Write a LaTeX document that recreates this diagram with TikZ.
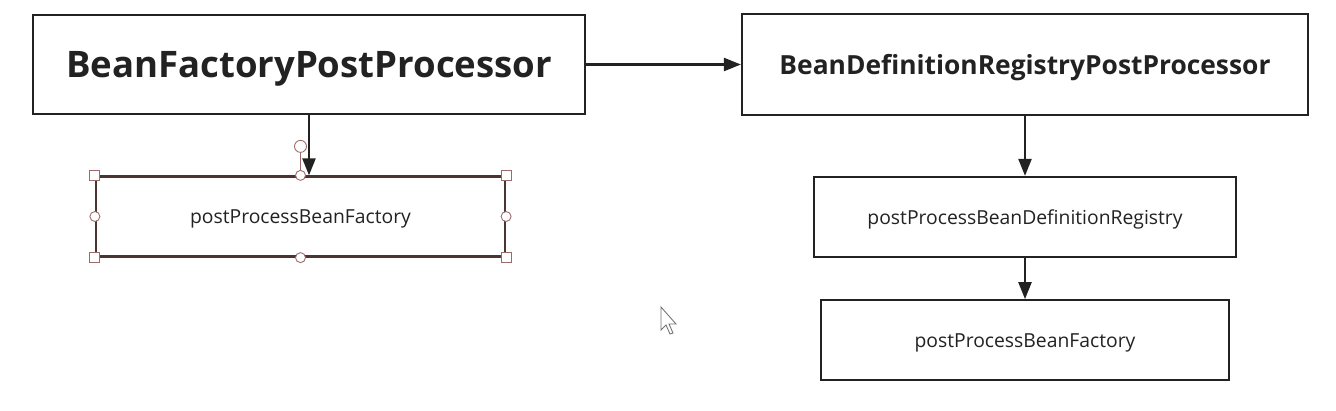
\documentclass[tikz,border=0pt]{standalone}
\usepackage{fontspec}
\setmainfont{Open Sans}
\usetikzlibrary{arrows.meta,positioning}

\definecolor{inkgray}{HTML}{222222}
\definecolor{selframe}{HTML}{4A3434}
\definecolor{handle}{HTML}{9C6A6A}

\begin{document}
\begin{tikzpicture}[%
    x=0.02cm, y=-0.02cm,
    >={Triangle[length=0.34cm,width=0.26cm]},
    box/.style={draw=inkgray, line width=1.3pt, fill=white, text=inkgray,
      inner sep=0pt, text depth=0pt},
    big/.style={box, font=\bfseries\fontsize{20.8}{22}\selectfont},
    mid/.style={box, font=\bfseries\fontsize{15}{17}\selectfont},
    small/.style={box, font=\fontsize{11}{13}\selectfont,
      minimum height=1.6cm},
    link/.style={->, draw=inkgray, line width=1.3pt},
    sqhandle/.style={draw=handle, fill=white, line width=0.5pt,
      minimum size=0.2cm, inner sep=0pt},
    rdhandle/.style={draw=handle, fill=white, line width=0.5pt,
      circle, minimum size=0.2cm, inner sep=0pt}
  ]
    \useasboundingbox (0,0) rectangle (1336,410);

    \node[big, minimum width=11.04cm, minimum height=1.98cm] (bfpp) at (309,64.5)
      {BeanFactoryPostProcessor};
    \node[mid, minimum width=11.32cm, minimum height=2.02cm] (bdrpp) at (1025,64.5)
      {BeanDefinitionRegistryPostProcessor};
    \node[small, minimum width=8.18cm, draw=selframe] (pbf) at (300.5,216.5)
      {postProcessBeanFactory};
    \node[small, minimum width=8.44cm] (pbdr) at (1025,217)
      {postProcessBeanDefinitionRegistry};
    \node[small, minimum width=8.16cm, below=0.82cm of pbdr] (pbf2)
      {postProcessBeanFactory};

    \draw[link] (bfpp) -- (bdrpp);
    \draw[link] (bfpp.south) -- (bfpp.south |- pbf.north);
    \draw[link] (bdrpp) -- (pbdr);
    \draw[link] (pbdr) -- (pbf2);

    % selection handles
    \coordinate (rot) at ([yshift=0.58cm]pbf.north);
    \draw[draw=handle, line width=0.5pt] (pbf.north) -- (rot);
    \node[rdhandle, minimum size=0.24cm] (h0) at (rot) {};
    \foreach \c in {north west, north east, south west, south east}
      \node[sqhandle] at (pbf.\c) {};
    \foreach \c in {north, south, east, west}
      \node[rdhandle] at (pbf.\c) {};

    % pointer
    \draw[draw=black!55, fill=white, line width=0.5pt]
      (661,307) -- (661,330) -- (666,325) -- (670,334) -- (673,333)
      -- (669,324) -- (676,324) -- cycle;
\end{tikzpicture}
\end{document}
